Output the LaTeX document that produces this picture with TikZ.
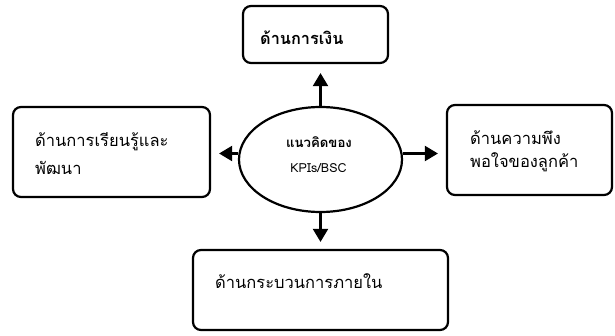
\documentclass[tikz,border=0pt]{standalone}
\usepackage{fontspec}
\newfontfamily\thaifont[Script=Thai]{Loma}
\usetikzlibrary{arrows.meta,shapes.geometric}
\begin{document}
\begin{tikzpicture}[x=1pt,y=-1pt,
  box/.style={draw,line width=2.2pt,rounded corners=8pt,inner sep=0pt},
  conn/.style={line width=2.2pt,-{Triangle[length=13pt,width=15pt]}},
  txt/.style={font=\thaifont\fontsize{16.5}{20}\selectfont,anchor=base west,inner sep=0pt},
  ctxt/.style={font=\thaifont\fontsize{12.5}{15}\selectfont,anchor=base,inner sep=0pt}]
\useasboundingbox (0,0) rectangle (615,336);
% boxes
\node[box,minimum width=145pt,minimum height=57pt] (tbox) at (315.5,34.5) {};
\node[box,minimum width=197pt,minimum height=90pt] (lbox) at (111.5,152) {};
\node[box,minimum width=165pt,minimum height=90pt] (rbox) at (529.5,150) {};
\node[box,minimum width=255pt,minimum height=80pt] (bbox) at (320.5,290) {};
% ellipse
\node[draw,ellipse,line width=2.2pt,minimum width=163pt,minimum height=105pt,inner sep=0pt] (c) at (320.5,159.5) {};
% texts
\node[txt,font=\thaifont\bfseries\fontsize{16.3}{20}\selectfont] (t1) at (260,45) {ด้านการเงิน};
\node[txt] (t2a) at (35,147) {ด้านการเรียนรู้และ};
\node[txt] (t2b) at (35,175) {พัฒนา};
\node[txt] (t3a) at (470,145) {ด้านความพึง};
\node[txt] (t3b) at (470,168) {พอใจของลูกค้า};
\node[txt] (t4) at (215,288) {ด้านกระบวนการภายใน};
\node[ctxt,font=\thaifont\bfseries\fontsize{13.2}{15}\selectfont] (c1) at (319,148) {แนวคิดของ};
\node[ctxt] (c2) at (318.5,173) {KPIs/BSC};
% connectors
\draw[conn,shorten >=9pt] (c.north) -- (c.north |- tbox.south);
\draw[conn,shorten >=7pt] (c.south) -- (c.south |- bbox.north);
\draw[conn,shorten >=8pt] ([yshift=6pt]c.west) -- ([yshift=6pt]c.west -| lbox.east);
\draw[conn,shorten >=8pt] ([yshift=6pt]c.east) -- ([yshift=6pt]c.east -| rbox.west);
\end{tikzpicture}
\end{document}
